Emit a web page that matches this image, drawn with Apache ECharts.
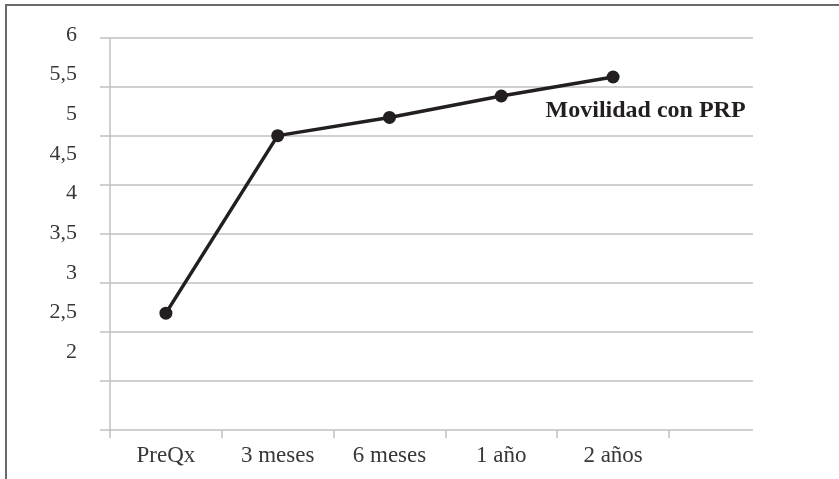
<!DOCTYPE html>
<html>
<head>
<meta charset="utf-8">
<script src="https://cdn.jsdelivr.net/npm/echarts@6/dist/echarts.min.js"></script>
<style>
  html, body { margin: 0; padding: 0; background: #ffffff; }
  #wrap { position: relative; width: 839px; height: 479px; overflow: hidden; }
  #chart { position: absolute; left: 0; top: 0; width: 839px; height: 479px; }
  #frame { position: absolute; left: 5px; top: 4px; right: -4px; bottom: -4px;
           border-top: 2px solid #6a6a6a; border-left: 2px solid #6a6a6a; pointer-events: none; }
</style>
</head>
<body>
<div id="wrap">
  <div id="chart"></div>
  <div id="frame"></div>
</div>
<script>
// Follow-up time points
const categories = ['PreQx', '3 meses', '6 meses', '1 año', '2 años'];
// Mobility score with PRP at each time point
const movilidadPRP = [2.49, 4.73, 4.96, 5.23, 5.47];
const seriesName = 'Movilidad con PRP';
// Value scale shown on the left axis
const yMin = 2, yMax = 6, yStep = 0.5;

const serif = '"Liberation Serif", "Times New Roman", serif';
const gridColor = '#c0c0c0';
const inkColor = '#231f20';
const labelColor = '#383838';

const chart = echarts.init(document.getElementById('chart'), null, { renderer: 'canvas' });

const lastIdx = movilidadPRP.length - 1;
const seriesData = movilidadPRP.map((v, i) => i === lastIdx ? {
  value: v,
  label: {
    show: true,
    formatter: seriesName,
    position: [-61, 40],
    align: 'left',
    verticalAlign: 'middle',
    fontFamily: serif,
    fontWeight: 'bold',
    fontSize: 24,
    color: inkColor
  }
} : v);

chart.setOption({
  animation: false,
  backgroundColor: '#ffffff',
  grid: [
    // plotting frame with horizontal gridlines
    { left: 110, top: 38, width: 643, height: 392, containLabel: false },
    // value / category layer
    { left: 110, top: 35, width: 559, height: 317, containLabel: false }
  ],
  xAxis: [
    {
      gridIndex: 0, type: 'value', min: 0, max: 1,
      axisLine: { show: false }, axisTick: { show: false },
      axisLabel: { show: false }, splitLine: { show: false }
    },
    {
      gridIndex: 1, type: 'category', data: categories, boundaryGap: true,
      position: 'bottom', offset: 78,
      axisLine: { show: false },
      axisTick: { show: true, length: 8, lineStyle: { color: gridColor, width: 1.5 } },
      axisLabel: { margin: 14, fontFamily: serif, fontSize: 23, color: labelColor },
      splitLine: { show: false }
    }
  ],
  yAxis: [
    {
      gridIndex: 0, type: 'value', min: yMin, max: yMax, interval: yStep,
      axisLine: { show: true, lineStyle: { color: gridColor, width: 1.5 } },
      axisTick: { show: true, length: 10, lineStyle: { color: gridColor, width: 1.5 } },
      axisLabel: { show: false },
      splitLine: { show: true, lineStyle: { color: gridColor, width: 1.5 } }
    },
    {
      gridIndex: 1, type: 'value', min: yMin, max: yMax, interval: yStep,
      axisLine: { show: false }, axisTick: { show: false },
      splitLine: { show: false },
      axisLabel: {
        margin: 33, fontFamily: serif, fontSize: 22, color: labelColor,
        formatter: v => String(v).replace('.', ',')
      }
    }
  ],
  series: [
    {
      name: seriesName,
      type: 'line',
      xAxisIndex: 1,
      yAxisIndex: 1,
      data: seriesData,
      symbol: 'circle',
      symbolSize: 13,
      lineStyle: { color: inkColor, width: 3.5 },
      itemStyle: { color: inkColor, borderWidth: 0 },
      label: { show: false }
    }
  ]
});
</script>
</body>
</html>
